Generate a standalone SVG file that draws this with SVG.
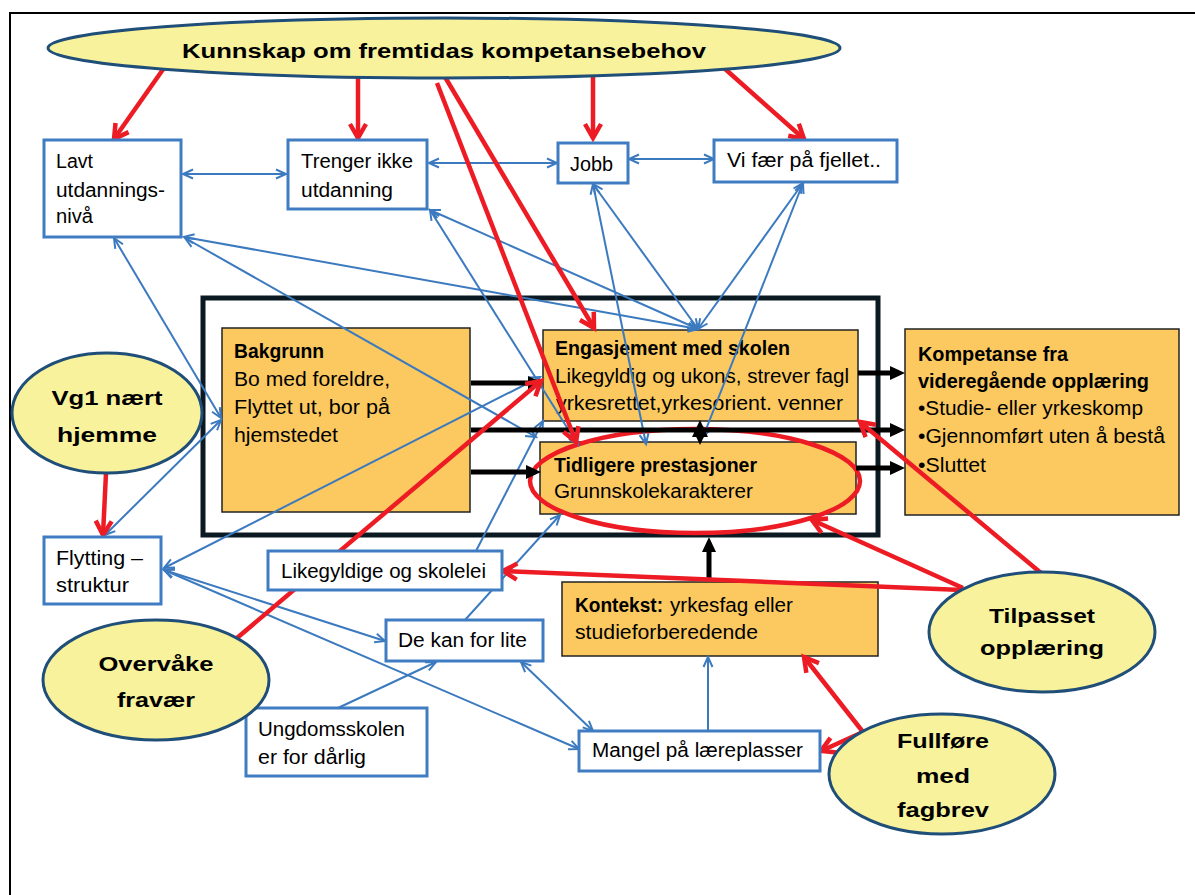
<svg xmlns="http://www.w3.org/2000/svg" width="1195" height="895" viewBox="0 0 1195 895">
<defs>
<style>
.box{fill:#fff;stroke:#3F7CC1;stroke-width:3}
.obox{fill:#FBC95F;stroke:#222;stroke-width:1.5}
.ell{fill:#F7F29B;stroke:#1F4E79;stroke-width:3}
.t{font-family:"Liberation Sans",Arial,sans-serif;font-size:20px;fill:#000}
.b{font-weight:bold}
.m{text-anchor:middle}
.blue{stroke:#3C7ABF;stroke-width:2;fill:none}
.bd{marker-start:url(#mb);marker-end:url(#mb)}
.bs{marker-end:url(#mb)}
.red{stroke:#ED1C24;stroke-width:4.5;fill:none;marker-end:url(#mr)}
.blk{stroke:#000;stroke-width:5;fill:none;marker-end:url(#mk)}
</style>
<marker id="mb" viewBox="0 0 12 12" refX="11" refY="6" markerWidth="12" markerHeight="12" markerUnits="userSpaceOnUse" orient="auto-start-reverse" overflow="visible"><path d="M1,1.5 L11,6 L1,10.5" fill="none" stroke="#3C7ABF" stroke-width="2"/></marker>
<marker id="mr" viewBox="0 0 20 20" refX="16" refY="10" markerWidth="20" markerHeight="20" markerUnits="userSpaceOnUse" orient="auto" overflow="visible"><path d="M2,2 L16,10 L2,18" fill="none" stroke="#ED1C24" stroke-width="4.5"/></marker>
<marker id="mk" viewBox="0 0 16 16" refX="9" refY="7" markerWidth="16" markerHeight="16" markerUnits="userSpaceOnUse" orient="auto" overflow="visible"><path d="M0,0 L15,7 L0,14 Z" fill="#000"/></marker>
</defs>
<rect width="1195" height="895" fill="#fff"/>
<path d="M10,895 V13 H1195" stroke="#000" stroke-width="2" fill="none"/>
<rect id="frame" x="203" y="298" width="675" height="237" fill="none" stroke="#0B1A22" stroke-width="5"/>

<g id="n-bakgrunn"><rect class="obox" x="222" y="328" width="248" height="184"/>
<text class="t b" x="234" y="358" font-size="19" textLength="90" lengthAdjust="spacingAndGlyphs">Bakgrunn</text>
<text class="t" x="234" y="386" textLength="156" lengthAdjust="spacingAndGlyphs">Bo med foreldre,</text>
<text class="t" x="234" y="414" textLength="156" lengthAdjust="spacingAndGlyphs">Flyttet ut, bor på</text>
<text class="t" x="234" y="442" textLength="104" lengthAdjust="spacingAndGlyphs">hjemstedet</text></g>
<g id="n-engasjement"><rect class="obox" x="543" y="330" width="315" height="91"/>
<text class="t b" x="555" y="355" font-size="19" textLength="235" lengthAdjust="spacingAndGlyphs">Engasjement med skolen</text>
<text class="t" x="555" y="383" textLength="294" lengthAdjust="spacingAndGlyphs">Likegyldig og ukons, strever fagl</text>
<text class="t" x="556" y="410" textLength="287" lengthAdjust="spacingAndGlyphs">yrkesrettet,yrkesorient. venner</text></g>
<g id="n-tidligere"><rect class="obox" x="540" y="442" width="316" height="72"/>
<text class="t b" x="554" y="472" font-size="19" textLength="203" lengthAdjust="spacingAndGlyphs">Tidligere prestasjoner</text>
<text class="t" x="554" y="498" textLength="199" lengthAdjust="spacingAndGlyphs">Grunnskolekarakterer</text></g>
<g id="n-kompetanse"><rect class="obox" x="905" y="329" width="274" height="186"/>
<text class="t b" x="918" y="361" font-size="19" textLength="150" lengthAdjust="spacingAndGlyphs">Kompetanse fra</text>
<text class="t b" x="918" y="388" font-size="19" textLength="231" lengthAdjust="spacingAndGlyphs">videregående opplæring</text>
<text class="t" x="918" y="415" textLength="225" lengthAdjust="spacingAndGlyphs">•Studie- eller yrkeskomp</text>
<text class="t" x="918" y="443" textLength="247" lengthAdjust="spacingAndGlyphs">•Gjennomført uten å bestå</text>
<text class="t" x="918" y="472" textLength="68" lengthAdjust="spacingAndGlyphs">•Sluttet</text></g>
<g id="n-kontekst"><rect class="obox" x="562" y="582" width="316" height="74"/>
<text class="t b" x="575" y="612" font-size="19" textLength="88" lengthAdjust="spacingAndGlyphs">Kontekst:</text>
<text class="t" x="670" y="612" font-size="19" textLength="123" lengthAdjust="spacingAndGlyphs">yrkesfag eller</text>
<text class="t" x="575" y="639" font-size="19" textLength="183" lengthAdjust="spacingAndGlyphs">studieforberedende</text></g>

<g id="highlight"><ellipse cx="695" cy="481" rx="165" ry="52" fill="none" stroke="#ED1C24" stroke-width="4.5"/></g>

<g id="connectors">
<g class="blue">
<line class="bd" x1="183" y1="174" x2="286" y2="174"/>
<line class="bd" x1="429" y1="163" x2="557" y2="163"/>
<line class="bd" x1="629" y1="159" x2="714" y2="159"/>
<line class="bd" x1="184" y1="237" x2="698" y2="329"/>
<line class="bd" x1="185" y1="238" x2="536" y2="437"/>
<line class="bd" x1="114" y1="238" x2="221" y2="418"/>
<line class="bd" x1="430" y1="210" x2="698" y2="329"/>
<line class="bd" x1="430" y1="210" x2="578" y2="445"/>
<line class="bd" x1="593" y1="184" x2="698" y2="329"/>
<line class="bd" x1="593" y1="184" x2="646" y2="444"/>
<line class="bd" x1="803" y1="183" x2="698" y2="329"/>
<line class="bd" x1="803" y1="183" x2="703" y2="437"/>
<line class="bd" x1="105" y1="535" x2="221" y2="420"/>
<line class="bd" x1="164" y1="568" x2="540" y2="377"/>
<line class="bd" x1="164" y1="570" x2="385" y2="641"/>
<line class="bd" x1="164" y1="570" x2="579" y2="749"/>
<line class="bs" x1="476" y1="551" x2="543" y2="421"/>
<line class="bs" x1="465" y1="620" x2="560" y2="515"/>
<line class="bs" x1="338" y1="708" x2="436" y2="662"/>
<line class="bd" x1="521" y1="662" x2="593" y2="731"/>
<line class="bs" x1="708" y1="731" x2="708" y2="657"/>
</g>
<line class="blk" x1="471" y1="383" x2="537" y2="383"/>
<line class="blk" x1="471" y1="472" x2="535" y2="472"/>
<line class="blk" x1="471" y1="430" x2="899" y2="430"/>
<line class="blk" x1="858" y1="373" x2="899" y2="373"/>
<line class="blk" x1="856" y1="468" x2="899" y2="468"/>
<line class="blk" x1="709" y1="580" x2="709" y2="543"/>
<polygon points="700,420 692,437 708,437" fill="#000"/>
<polygon points="700,445 692,428 708,428" fill="#000"/>
<line class="red" x1="164" y1="68" x2="114" y2="139"/>
<line class="red" x1="358" y1="77" x2="358" y2="138"/>
<line class="red" x1="593" y1="77" x2="593" y2="138"/>
<line class="red" x1="724" y1="68" x2="804" y2="139"/>
<line class="red" x1="437" y1="83" x2="576" y2="442"/>
<line class="red" x1="445" y1="77" x2="594" y2="328"/>
<line class="red" x1="106" y1="473" x2="103" y2="535"/>
<line class="red" x1="237" y1="638" x2="541" y2="381"/>
<line class="red" x1="962" y1="590" x2="503" y2="571"/>
<line class="red" x1="963" y1="588" x2="812" y2="520"/>
<line class="red" x1="1041" y1="573" x2="860" y2="422"/>
<line class="red" x1="863" y1="732" x2="804" y2="657"/>
<line class="red" x1="863" y1="732" x2="821" y2="751"/>
</g>

<g id="n-kunnskap"><ellipse class="ell" cx="444" cy="48" rx="396" ry="30"/>
<text class="t b m" x="444" y="58" font-size="27" textLength="524" lengthAdjust="spacingAndGlyphs">Kunnskap om fremtidas kompetansebehov</text></g>
<g id="n-lavt"><rect class="box" x="44" y="140" width="137" height="97"/>
<text class="t" x="56" y="168" textLength="37" lengthAdjust="spacingAndGlyphs">Lavt</text>
<text class="t" x="56" y="197" textLength="109" lengthAdjust="spacingAndGlyphs">utdannings-</text>
<text class="t" x="56" y="223" textLength="37" lengthAdjust="spacingAndGlyphs">nivå</text></g>
<g id="n-trenger"><rect class="box" x="288" y="140" width="139" height="69"/>
<text class="t" x="301" y="168" textLength="112" lengthAdjust="spacingAndGlyphs">Trenger ikke</text>
<text class="t" x="301" y="197" textLength="92" lengthAdjust="spacingAndGlyphs">utdanning</text></g>
<g id="n-jobb"><rect class="box" x="558" y="143" width="70" height="40"/>
<text class="t" x="570" y="171" textLength="43" lengthAdjust="spacingAndGlyphs">Jobb</text></g>
<g id="n-vifaer"><rect class="box" x="714" y="140" width="183" height="42"/>
<text class="t" x="727" y="167" textLength="154" lengthAdjust="spacingAndGlyphs">Vi fær på fjellet..</text></g>
<g id="n-flytting"><rect class="box" x="44" y="537" width="117" height="67"/>
<text class="t" x="56" y="565" textLength="87" lengthAdjust="spacingAndGlyphs">Flytting –</text>
<text class="t" x="56" y="592" textLength="73" lengthAdjust="spacingAndGlyphs">struktur</text></g>
<g id="n-likegyldige"><rect class="box" x="268" y="551" width="234" height="39"/>
<text class="t" x="281" y="578" textLength="205" lengthAdjust="spacingAndGlyphs">Likegyldige  og skolelei</text></g>
<g id="n-dekan"><rect class="box" x="386" y="620" width="157" height="41"/>
<text class="t" x="398" y="647" textLength="129" lengthAdjust="spacingAndGlyphs">De kan for lite</text></g>
<g id="n-ungdom"><rect class="box" x="246" y="708" width="181" height="68"/>
<text class="t" x="258" y="736" textLength="147" lengthAdjust="spacingAndGlyphs">Ungdomsskolen</text>
<text class="t" x="258" y="764" textLength="108" lengthAdjust="spacingAndGlyphs">er for dårlig</text></g>
<g id="n-mangel"><rect class="box" x="579" y="731" width="241" height="40"/>
<text class="t" x="592" y="757" textLength="211" lengthAdjust="spacingAndGlyphs">Mangel på læreplasser</text></g>
<g id="n-vg1"><ellipse class="ell" cx="107" cy="413" rx="95" ry="60"/>
<text class="t b m" x="107" y="405" font-size="27" textLength="111" lengthAdjust="spacingAndGlyphs">Vg1 nært</text>
<text class="t b m" x="107" y="442" font-size="27" textLength="100" lengthAdjust="spacingAndGlyphs">hjemme</text></g>
<g id="n-overvake"><ellipse class="ell" cx="156" cy="680" rx="113" ry="60"/>
<text class="t b m" x="156" y="671" font-size="27" textLength="115" lengthAdjust="spacingAndGlyphs">Overvåke</text>
<text class="t b m" x="156" y="707" font-size="27" textLength="78" lengthAdjust="spacingAndGlyphs">fravær</text></g>
<g id="n-tilpasset"><ellipse class="ell" cx="1042" cy="632" rx="113" ry="60"/>
<text class="t b m" x="1042" y="623" font-size="27" textLength="106" lengthAdjust="spacingAndGlyphs">Tilpasset</text>
<text class="t b m" x="1042" y="655" font-size="27" textLength="124" lengthAdjust="spacingAndGlyphs">opplæring</text></g>
<g id="n-fullfore"><ellipse class="ell" cx="942" cy="774" rx="113" ry="60"/>
<text class="t b m" x="943" y="748" font-size="27" textLength="92" lengthAdjust="spacingAndGlyphs">Fullføre</text>
<text class="t b m" x="943" y="783" font-size="27" textLength="54" lengthAdjust="spacingAndGlyphs">med</text>
<text class="t b m" x="943" y="817" font-size="27" textLength="92" lengthAdjust="spacingAndGlyphs">fagbrev</text></g>
</svg>
